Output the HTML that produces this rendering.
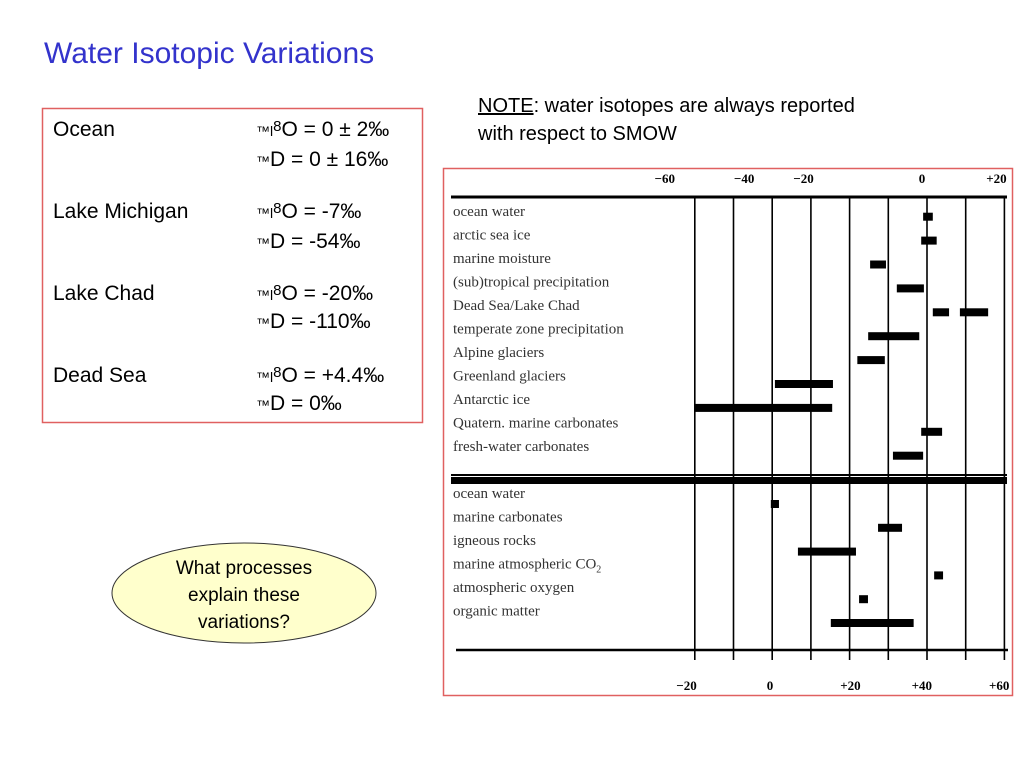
<!DOCTYPE html>
<html><head><meta charset="utf-8"><style>
body{margin:0;background:#fff;}
svg{display:block;}
.sans{font-family:"Liberation Sans",Arial,sans-serif;}
.serif{font-family:"Liberation Serif","Times New Roman",serif;}
</style></head><body>
<svg id="s" width="1024" height="768" viewBox="0 0 1024 768" xmlns="http://www.w3.org/2000/svg">
<text x="44" y="63" class="sans" font-size="30" fill="#3333cc">Water Isotopic Variations</text>
<g class="sans" font-size="20" fill="#000">
<text x="478" y="112"><tspan text-decoration="underline">NOTE</tspan>:  water isotopes are always reported</text>
<text x="478" y="140">with respect to SMOW</text>
</g>
<rect x="42.5" y="108.5" width="380" height="314" fill="#fff" stroke="#e06060" stroke-width="1.5"/>
<g class="sans" font-size="21" fill="#000">
<text x="53" y="136">Ocean</text><text x="256" y="136"><tspan font-size="14">™l</tspan><tspan font-size="15" dy="-5">8</tspan><tspan dy="5">O = 0 ± 2‰</tspan></text>
<text x="256" y="166"><tspan font-size="14">™</tspan>D = 0 ± 16‰</text>
<text x="53" y="218">Lake Michigan</text><text x="256" y="218"><tspan font-size="14">™l</tspan><tspan font-size="15" dy="-5">8</tspan><tspan dy="5">O = -7‰</tspan></text>
<text x="256" y="248"><tspan font-size="14">™</tspan>D = -54‰</text>
<text x="53" y="300">Lake Chad</text><text x="256" y="300"><tspan font-size="14">™l</tspan><tspan font-size="15" dy="-5">8</tspan><tspan dy="5">O = -20‰</tspan></text>
<text x="256" y="328"><tspan font-size="14">™</tspan>D = -110‰</text>
<text x="53" y="382">Dead Sea</text><text x="256" y="382"><tspan font-size="14">™l</tspan><tspan font-size="15" dy="-5">8</tspan><tspan dy="5">O = +4.4‰</tspan></text>
<text x="256" y="410"><tspan font-size="14">™</tspan>D = 0‰</text>
</g>
<g>
<ellipse cx="244" cy="593" rx="132" ry="50" fill="#ffffcc" stroke="#333" stroke-width="1"/>
<g class="sans" font-size="19" text-anchor="middle">
<text x="244" y="574">What processes</text><text x="244" y="601">explain these</text><text x="244" y="628">variations?</text>
</g></g>
<rect x="443.5" y="168.5" width="569" height="527" fill="#fff" stroke="#e06060" stroke-width="1.5"/>
<g id="chart"></g>
</svg>
<script>
const topCats=["ocean water","arctic sea ice","marine moisture","(sub)tropical precipitation","Dead Sea/Lake Chad","temperate zone precipitation","Alpine glaciers","Greenland glaciers","Antarctic ice","Quatern. marine carbonates","fresh-water carbonates"];
const topLo=[[-1],[-1.5],[-14.7],[-7.8],[1.5,8.5],[-15.2],[-18],[-39.3],[-60],[-1.5],[-8.8]];
const topHi=[[1.5],[2.5],[-10.6],[-0.8],[5.7,15.8],[-2],[-10.9],[-24.3],[-24.5],[3.9],[-1]];
const topTicks=["−60","−40","−20","0","+20"];
const topTickVals=[-60,-40,-20,0,20];
const botCats=["ocean water","marine carbonates","igneous rocks","marine atmospheric CO","atmospheric oxygen","organic matter"];
const botLo=[-0.3,27.4,6.7,41.9,22.5,15.2];
const botHi=[1.8,33.6,21.7,44.2,24.8,36.6];
const botTicks=["−20","0","+20","+40","+60"];
const botTickVals=[-20,0,20,40,60];

const NS="http://www.w3.org/2000/svg";
const g=document.getElementById('chart');
function el(t,a,p){const e=document.createElementNS(NS,t);for(const k in a)e.setAttribute(k,a[k]);(p||g).appendChild(e);return e;}
const k=3.87;
const xTop=v=>927+k*v;
const xBot=v=>772+k*v;
const topLabelY=i=>216+i*23.5;
const topBarY=i=>216.7+i*23.9;
const botLabelY=i=>498+i*23.5;
const botBarY=i=>504+i*23.8;
const topOff=[-30,-28,-46,-5,-8];
const botOff=[-8,-2,1,-5,-5];

for(let i=0;i<9;i++){
  const l=el('line',{x1:xTop(-60+i*10),x2:xTop(-60+i*10),y1:197,y2:660,stroke:'#000','stroke-width':1.6});
  
  
}
let a=el('line',{x1:451,x2:1007,y1:197,y2:197,stroke:'#000','stroke-width':3});

a=el('rect',{x:451,y:474,width:556,height:2,fill:'#000'});

a=el('rect',{x:451,y:477,width:556,height:7,fill:'#000'});

a=el('line',{x1:456,x2:1008,y1:650,y2:650,stroke:'#000','stroke-width':2.5});


topTicks.forEach((t,i)=>{
  const e=el('text',{x:xTop(topTickVals[i])+topOff[i],y:183,'text-anchor':'middle','font-size':13,'font-weight':'bold','font-family':'Liberation Serif,serif'});
  e.textContent=t;
  
});
botTicks.forEach((t,i)=>{
  const e=el('text',{x:xBot(botTickVals[i])+botOff[i],y:690,'text-anchor':'middle','font-size':13,'font-weight':'bold','font-family':'Liberation Serif,serif'});
  e.textContent=t;
  
});
topCats.forEach((c,i)=>{
  const e=el('text',{x:453,y:topLabelY(i),'font-size':15,fill:'#333','font-family':'Liberation Serif,serif'});
  e.textContent=c;
  
  topLo[i].forEach((lo,j)=>{
    const x1=xTop(lo),x2=xTop(topHi[i][j]);
    const b=el('rect',{x:x1,y:topBarY(i)-4,width:x2-x1,height:8,fill:'#000'});
    
  });
});
botCats.forEach((c,i)=>{
  const e=el('text',{x:453,y:botLabelY(i),'font-size':15,fill:'#333','font-family':'Liberation Serif,serif'});
  e.textContent=c;
  if(i===3){const s=document.createElementNS(NS,'tspan');s.setAttribute('font-size','10');s.setAttribute('dy','4');s.textContent='2';e.appendChild(s);}
  
  const x1=xBot(botLo[i]),x2=xBot(botHi[i]);
  const b=el('rect',{x:x1,y:botBarY(i)-4,width:x2-x1,height:8,fill:'#000'});
  
});
</script>
</body></html>
